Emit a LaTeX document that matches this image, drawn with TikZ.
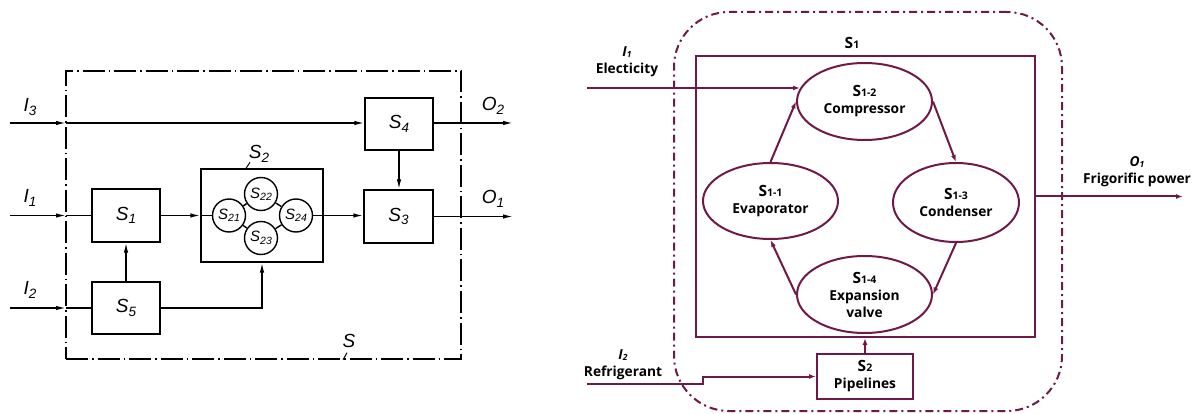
\documentclass[tikz,border=0pt]{standalone}
\usepackage{fontspec}
\setmainfont{Liberation Sans}
\newfontfamily\rfont{Open Sans}
\usetikzlibrary{arrows.meta,shapes.geometric}
\definecolor{plum}{RGB}{112,24,72}
\newcommand\ls[2]{#1\raisebox{-0.35ex}{\fontsize{13.5}{13.5}\selectfont #2}}
\newcommand\cs[2]{#1\raisebox{-0.3ex}{\fontsize{10.5}{10.5}\selectfont #2}}
\newcommand\rs[2]{{\fontsize{15.5}{15.5}\selectfont #1}{\fontsize{10.5}{10.5}\selectfont #2}}
\newcommand\ri[2]{{\itshape #1\raisebox{-0.2ex}{\fontsize{8.5}{8.5}\selectfont #2}}}
\begin{document}
\begin{tikzpicture}[x=1pt,y=-1pt,
 lline/.style={line width=1.4pt},
 larr/.style={lline,-{Latex[length=10pt,width=4.5pt]}},
 lbox/.style={draw,lline,inner sep=0pt},
 lcirc/.style={draw,lline,circle,minimum size=33pt,inner sep=0pt,font=\fontsize{15}{15}\selectfont\itshape},
 ltxt/.style={font=\fontsize{19}{19}\selectfont\itshape},
 ldd/.style={draw,lline,dash pattern=on 22pt off 4pt on 1.5pt off 4pt},
 rline/.style={plum,line width=2pt},
 rarr/.style={rline,-{Latex[length=7pt,width=5pt]}},
 rbox/.style={draw=plum,line width=2pt,inner sep=0pt},
 rtxt/.style={align=center,font={\rfont\fontsize{13.75}{17}\selectfont\bfseries}},
 rell/.style={draw=plum,line width=2pt,ellipse,inner sep=0pt,align=center,font={\rfont\fontsize{13.75}{17}\selectfont\bfseries}},
]
\useasboundingbox (0,0) rectangle (1195,414);
% ---------------- left diagram ----------------
\node[ldd,minimum width=395pt,minimum height=288pt] (S) at (263.5,215) {};
\node[lbox,minimum width=68pt,minimum height=53pt,ltxt] (s1) at (126,215.5) {\ls{S}{1}};
\node[lbox,minimum width=68pt,minimum height=52pt,ltxt] (s5) at (126,308) {\ls{S}{5}};
\node[lbox,minimum width=68pt,minimum height=52pt,ltxt] (s4) at (399,124) {\ls{S}{4}};
\node[lbox,minimum width=69pt,minimum height=53pt,ltxt] (s3) at (398.5,216.5) {\ls{S}{3}};
\node[lbox,minimum width=122pt,minimum height=93pt] (s2) at (262,215.5) {};
\node[lcirc] (s21) at (229,215.5) {\cs{S}{21}};
\node[lcirc] (s22) at (261,194) {\cs{S}{22}};
\node[lcirc] (s24) at (296,215.5) {\cs{S}{24}};
\node[lcirc] (s23) at (261,238) {\cs{S}{23}};
\draw[lline] (s21) -- (s22) -- (s24) -- (s23) -- (s21);
\draw[lline] (s2.west) -- (s21.west);
\draw[lline] (s24.east) -- (s2.east);
\node[ltxt] (ls2) at (259,154) {\ls{S}{2}};
\draw[line width=1pt] (s2.north) ++(-16,0) -- ++(4,-6);
\node[ltxt] (lS) at (349,341) {S};
\draw[line width=1pt] (S.south) ++(79.5,0) -- ++(4,-7);
% inputs
\node[ltxt] (li3) at (30,107) {\ls{I}{3}};
\node[ltxt] (li1) at (30,198) {\ls{I}{1}};
\node[ltxt] (li2) at (30,290) {\ls{I}{2}};
\node[ltxt] (lo2) at (493,106) {\ls{O}{2}};
\node[ltxt] (lo1) at (493,199) {\ls{O}{1}};
\coordinate (i3a) at (10,123); \coordinate (i3b) at (66,123);
\coordinate (i1a) at (10,215.5); \coordinate (i1b) at (66,215.5);
\coordinate (i2a) at (10,308); \coordinate (i2b) at (66,308);
\coordinate (o2) at (513,123); \coordinate (o1) at (513,216.5);
\draw[larr] (i3a) -- (i3b);
\draw[larr] (i3b) -- (i3b -| s4.west);
\draw[larr] (i1a) -- (i1b);
\draw[lline] (i1b) -- (s1.west);
\draw[larr] (i2a) -- (i2b);
\draw[lline] (i2b) -- (s5.west);
\draw[larr] (o2 -| s4.east) -- (o2);
\draw[larr] (s3.east) -- (o1);
\draw[larr] (s5.north) -- (s1.south);
\draw[larr] (s5.east) -| (s2.south);
\draw[larr] (s1.east) -- (s2.west);
\draw[larr] (s2.east) -- (s2.east -| s3.west);
\draw[larr] (s4.south) -- (s4.south |- s3.north);
% ---------------- right diagram ----------------
\node[draw=plum,line width=2pt,dash pattern=on 8pt off 4pt on 2pt off 4pt,rounded corners=55pt,minimum width=388pt,minimum height=399pt] (sys) at (868,211.5) {};
\node[rbox,minimum width=339pt,minimum height=281pt] (s1r) at (865.5,196.5) {};
\node[rtxt] (s1lab) at (852,43) {\rs{S}{1}};
\node[rell,minimum width=135pt,minimum height=77pt] (comp) at (864.5,101.5) {\rs{S}{1-2}\\Compressor};
\node[rell,minimum width=135pt,minimum height=76pt] (evap) at (770.5,201) {\rs{S}{1-1}\\Evaporator};
\node[rell,minimum width=126pt,minimum height=79pt] (cond) at (956,202.5) {\rs{S}{1-3}\\Condenser};
\node[rell,minimum width=135pt,minimum height=77pt] (exp) at (864.5,294.5) {\rs{S}{1-4}\\Expansion\\valve};
\node[rbox,rtxt,minimum width=96pt,minimum height=45pt] (s2r) at (865,376.5) {\rs{S}{2}\\Pipelines};
\draw[rarr] (evap.north) -- (comp.west);
\draw[rarr] (comp.east) -- (cond.north);
\draw[rarr] (cond.south) -- (exp.east);
\draw[rarr] (exp.west) -- (evap.south);
\coordinate (e1) at (587,88);
\draw[rarr,shorten >=-4pt] (e1) -- (e1 -| comp.west);
\coordinate (r1) at (587,384); \coordinate (r2) at (703,384);
\draw[rarr] (r1) -- (r2) |- (s2r.west);
\draw[rarr] (s2r.north) -- (s2r.north |- s1r.south);
\coordinate (o1r) at (1183,196.5);
\draw[rarr] (s1r.east) -- (o1r);
\node[rtxt] (li1r) at (627,61.5) {\ri{I}{1}\\Electicity};
\node[rtxt] (li2r) at (623,364.5) {\ri{I}{2}\\Refrigerant};
\node[rtxt] (lo1r) at (1137,171.5) {\ri{O}{1}\\Frigorific power};
\end{tikzpicture}
\end{document}
